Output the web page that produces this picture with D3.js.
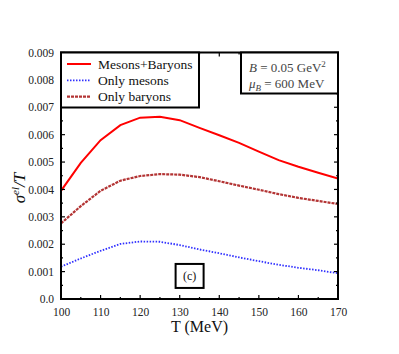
<!DOCTYPE html>
<html>
<head>
<meta charset="utf-8">
<script src="https://cdn.jsdelivr.net/npm/d3@7"></script>
<style>
  body { margin: 0; background: #fff; }
  svg text { font-family: "Liberation Serif", "DejaVu Serif", serif; }
</style>
</head>
<body>
<div id="chart"></div>
<script>
var temps = [100, 105, 110, 115, 120, 125, 130, 135, 140, 145, 150, 155, 160, 165, 170];
var mesonsBaryons = [0.00395, 0.00497, 0.00580, 0.00635, 0.00662, 0.00665, 0.00653, 0.00625, 0.00598, 0.00570, 0.00538, 0.00507, 0.00483, 0.00461, 0.00440];
var onlyMesons = [0.00118, 0.00148, 0.00176, 0.00201, 0.00210, 0.00209, 0.00197, 0.00181, 0.00167, 0.00152, 0.00138, 0.00125, 0.00114, 0.00105, 0.00094];
var onlyBaryons = [0.00276, 0.00339, 0.00395, 0.00432, 0.00449, 0.00456, 0.00454, 0.00445, 0.00430, 0.00414, 0.00399, 0.00383, 0.00369, 0.00358, 0.00347];
var xTicks = [100, 110, 120, 130, 140, 150, 160, 170];
var yTicks = [0, 0.001, 0.002, 0.003, 0.004, 0.005, 0.006, 0.007, 0.008, 0.009];
var yTickLabels = ["0.0", "0.001", "0.002", "0.003", "0.004", "0.005", "0.006", "0.007", "0.008", "0.009"];
var seriesNames = ["Mesons+Baryons", "Only mesons", "Only baryons"];

function init(){
    var W = 399, H = 354;
    var margin = {top: 52.5, right: 61, bottom: 55, left: 61};
    var w = W - margin.left - margin.right;
    var h = H - margin.top - margin.bottom;

    var svg = d3.select("#chart").append("svg")
        .attr("width", W).attr("height", H);
    var g = svg.append("g")
        .attr("transform", "translate(" + margin.left + "," + margin.top + ")");

    var xScale = d3.scaleLinear().domain([100, 170]).range([0, w]);
    var yScale = d3.scaleLinear().domain([0, 0.009]).range([h, 0]);

    var styles = [
        {color: "#ff0000", width: 2, dash: null},
        {color: "#3030ff", width: 1.8, dash: "1.5,1.5"},
        {color: "#b33434", width: 2.2, dash: "3,1"}
    ];
    var series = [mesonsBaryons, onlyMesons, onlyBaryons];

    var line = d3.line()
        .x(function(d, i){ return xScale(temps[i]); })
        .y(function(d){ return yScale(d); });

    g.append("clipPath").attr("id", "clip")
        .append("rect").attr("width", w).attr("height", h);

    series.forEach(function(s, k){
        g.append("path")
            .datum(s)
            .attr("clip-path", "url(#clip)")
            .attr("fill", "none")
            .attr("stroke", styles[k].color)
            .attr("stroke-width", styles[k].width)
            .attr("stroke-dasharray", styles[k].dash)
            .attr("d", line);
    });

    // minor ticks
    var xMinor = d3.range(105, 170, 10);
    var yMinor = d3.range(0.0005, 0.009, 0.001);

    function ticksX(vals, len){
        vals.forEach(function(v){
            g.append("line").attr("x1", xScale(v)).attr("x2", xScale(v))
                .attr("y1", h).attr("y2", h - len).attr("stroke", "#000").attr("stroke-width", 1.2);
            g.append("line").attr("x1", xScale(v)).attr("x2", xScale(v))
                .attr("y1", 0).attr("y2", len).attr("stroke", "#000").attr("stroke-width", 1.2);
        });
    }
    function ticksY(vals, len){
        vals.forEach(function(v){
            g.append("line").attr("x1", 0).attr("x2", len)
                .attr("y1", yScale(v)).attr("y2", yScale(v)).attr("stroke", "#000").attr("stroke-width", 1.2);
            g.append("line").attr("x1", w).attr("x2", w - len)
                .attr("y1", yScale(v)).attr("y2", yScale(v)).attr("stroke", "#000").attr("stroke-width", 1.2);
        });
    }
    ticksX(xTicks, 4); ticksX(xMinor, 2);
    ticksY(yTicks, 4); ticksY(yMinor, 2);

    // axes for labels
    var xAxis = d3.axisBottom(xScale).tickValues(xTicks).tickSize(0).tickPadding(9)
        .tickFormat(d3.format("d"));
    var yAxis = d3.axisLeft(yScale).tickValues(yTicks).tickSize(0).tickPadding(7)
        .tickFormat(function(d, i){ return yTickLabels[i]; });

    var gx = g.append("g").attr("transform", "translate(0," + h + ")").call(xAxis);
    var gy = g.append("g").call(yAxis);
    [gx, gy].forEach(function(a){
        a.select(".domain").remove();
        a.selectAll("text").attr("font-family", "Liberation Serif").attr("font-size", 11.5).attr("fill", "#222");
    });

    // frame
    g.append("rect").attr("width", w).attr("height", h)
        .attr("fill", "none").attr("stroke", "#000").attr("stroke-width", 2);

    // legend
    var leg = g.append("g");
    leg.append("rect").attr("x", 0).attr("y", 0).attr("width", 138).attr("height", 55)
        .attr("fill", "#fff").attr("stroke", "#000").attr("stroke-width", 2);
    seriesNames.forEach(function(name, k){
        var yy = 11.5 + k * 16.3;
        leg.append("line").attr("x1", 6).attr("x2", 30).attr("y1", yy).attr("y2", yy)
            .attr("stroke", styles[k].color).attr("stroke-width", styles[k].width)
            .attr("stroke-dasharray", styles[k].dash);
        leg.append("text").attr("x", 37).attr("y", yy + 4.5)
            .attr("font-size", 13.5).attr("fill", "#111").text(name);
    });

    // parameter box
    var pb = g.append("g").attr("transform", "translate(" + (w - 97) + ",0)");
    pb.append("rect").attr("width", 97).attr("height", 41)
        .attr("fill", "#fff").attr("stroke", "#000").attr("stroke-width", 2);
    var t1 = pb.append("text").attr("x", 8).attr("y", 19.5).attr("font-size", 13).attr("fill", "#444");
    t1.append("tspan").attr("font-style", "italic").text("B");
    t1.append("tspan").text(" = 0.05 GeV");
    t1.append("tspan").attr("font-size", 9).attr("dy", -5).text("2");
    var t2 = pb.append("text").attr("x", 8).attr("y", 35).attr("font-size", 13).attr("fill", "#444");
    t2.append("tspan").attr("font-style", "italic").text("μ");
    t2.append("tspan").attr("font-style", "italic").attr("font-size", 9).attr("dy", 3).text("B");
    t2.append("tspan").attr("dy", -3).text(" = 600 MeV");

    // (c) box
    var cb = g.append("g").attr("transform", "translate(" + (xScale(132.5) - 14) + "," + (yScale(0.00128)) + ")");
    cb.append("rect").attr("width", 28).attr("height", 24)
        .attr("fill", "#fff").attr("stroke", "#000").attr("stroke-width", 2);
    cb.append("text").attr("x", 14).attr("y", 16.5).attr("text-anchor", "middle")
        .attr("font-size", 12).attr("fill", "#111").text("(c)");

    // axis titles
    svg.append("text").attr("x", margin.left + w / 2).attr("y", 332)
        .attr("text-anchor", "middle").attr("font-size", 16).attr("fill", "#111").text("T (MeV)");
    var yt = svg.append("text").attr("transform", "translate(25,188) rotate(-90)")
        .attr("text-anchor", "middle").attr("font-size", 17).attr("fill", "#111");
    yt.append("tspan").attr("font-style", "italic").text("σ");
    yt.append("tspan").attr("font-style", "italic").attr("font-size", 11).attr("dy", -6).text("el");
    yt.append("tspan").attr("font-style", "italic").attr("dy", 6).text("/T");
}
window.onload = init;
</script>
</body>
</html>
